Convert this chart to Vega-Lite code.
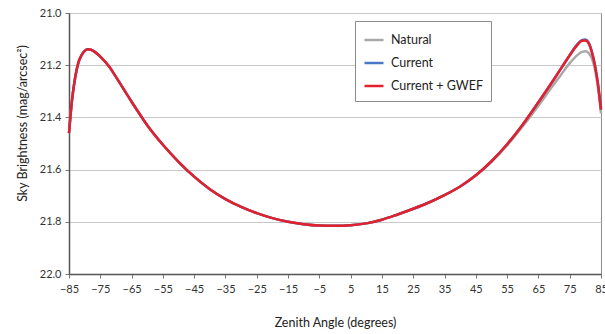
{
  "$schema": "https://vega.github.io/schema/vega-lite/v6.json",
  "width": 532,
  "height": 261,
  "autosize": {"type": "none"},
  "padding": {"left": 69, "top": 13, "right": 4, "bottom": 60},
  "background": "white",
  "config": {
    "font": "Lato",
    "view": {"stroke": "#8c8c8c", "strokeWidth": 1}
  },
  "data": {
    "values": [
      {"angle": -85, "Natural": 21.46, "Current": 21.46, "GWEF": 21.46},
      {"angle": -84, "Natural": 21.33, "Current": 21.33, "GWEF": 21.33},
      {"angle": -83, "Natural": 21.245, "Current": 21.245, "GWEF": 21.245},
      {"angle": -82, "Natural": 21.19, "Current": 21.19, "GWEF": 21.19},
      {"angle": -81, "Natural": 21.162, "Current": 21.162, "GWEF": 21.162},
      {"angle": -80, "Natural": 21.145, "Current": 21.145, "GWEF": 21.145},
      {"angle": -79, "Natural": 21.139, "Current": 21.139, "GWEF": 21.139},
      {"angle": -78, "Natural": 21.141, "Current": 21.141, "GWEF": 21.141},
      {"angle": -77, "Natural": 21.147, "Current": 21.147, "GWEF": 21.147},
      {"angle": -76, "Natural": 21.156, "Current": 21.156, "GWEF": 21.156},
      {"angle": -75, "Natural": 21.167, "Current": 21.167, "GWEF": 21.167},
      {"angle": -72, "Natural": 21.208, "Current": 21.208, "GWEF": 21.208},
      {"angle": -70, "Natural": 21.245, "Current": 21.245, "GWEF": 21.245},
      {"angle": -65, "Natural": 21.34, "Current": 21.34, "GWEF": 21.34},
      {"angle": -60, "Natural": 21.43, "Current": 21.43, "GWEF": 21.43},
      {"angle": -55, "Natural": 21.505, "Current": 21.505, "GWEF": 21.505},
      {"angle": -50, "Natural": 21.57, "Current": 21.57, "GWEF": 21.57},
      {"angle": -45, "Natural": 21.627, "Current": 21.627, "GWEF": 21.627},
      {"angle": -40, "Natural": 21.675, "Current": 21.675, "GWEF": 21.675},
      {"angle": -35, "Natural": 21.713, "Current": 21.713, "GWEF": 21.713},
      {"angle": -30, "Natural": 21.743, "Current": 21.743, "GWEF": 21.743},
      {"angle": -25, "Natural": 21.767, "Current": 21.767, "GWEF": 21.767},
      {"angle": -20, "Natural": 21.786, "Current": 21.786, "GWEF": 21.786},
      {"angle": -15, "Natural": 21.8, "Current": 21.8, "GWEF": 21.8},
      {"angle": -10, "Natural": 21.809, "Current": 21.809, "GWEF": 21.809},
      {"angle": -5, "Natural": 21.814, "Current": 21.814, "GWEF": 21.814},
      {"angle": 0, "Natural": 21.815, "Current": 21.815, "GWEF": 21.815},
      {"angle": 5, "Natural": 21.813, "Current": 21.813, "GWEF": 21.813},
      {"angle": 10, "Natural": 21.806, "Current": 21.806, "GWEF": 21.806},
      {"angle": 15, "Natural": 21.792, "Current": 21.792, "GWEF": 21.792},
      {"angle": 20, "Natural": 21.772, "Current": 21.772, "GWEF": 21.772},
      {"angle": 25, "Natural": 21.75, "Current": 21.75, "GWEF": 21.75},
      {"angle": 30, "Natural": 21.726, "Current": 21.726, "GWEF": 21.726},
      {"angle": 35, "Natural": 21.698, "Current": 21.698, "GWEF": 21.698},
      {"angle": 40, "Natural": 21.665, "Current": 21.665, "GWEF": 21.665},
      {"angle": 45, "Natural": 21.623, "Current": 21.622, "GWEF": 21.622},
      {"angle": 50, "Natural": 21.57, "Current": 21.568, "GWEF": 21.568},
      {"angle": 55, "Natural": 21.507, "Current": 21.503, "GWEF": 21.503},
      {"angle": 60, "Natural": 21.434, "Current": 21.427, "GWEF": 21.427},
      {"angle": 65, "Natural": 21.355, "Current": 21.342, "GWEF": 21.342},
      {"angle": 70, "Natural": 21.272, "Current": 21.253, "GWEF": 21.254},
      {"angle": 72, "Natural": 21.24, "Current": 21.216, "GWEF": 21.217},
      {"angle": 75, "Natural": 21.192, "Current": 21.161, "GWEF": 21.163},
      {"angle": 77, "Natural": 21.166, "Current": 21.126, "GWEF": 21.129},
      {"angle": 79, "Natural": 21.149, "Current": 21.103, "GWEF": 21.106},
      {"angle": 80, "Natural": 21.147, "Current": 21.102, "GWEF": 21.105},
      {"angle": 81, "Natural": 21.153, "Current": 21.112, "GWEF": 21.115},
      {"angle": 82, "Natural": 21.172, "Current": 21.145, "GWEF": 21.147},
      {"angle": 83, "Natural": 21.212, "Current": 21.195, "GWEF": 21.197},
      {"angle": 84, "Natural": 21.283, "Current": 21.268, "GWEF": 21.27},
      {"angle": 85, "Natural": 21.385, "Current": 21.37, "GWEF": 21.37}
    ]
  },
  "encoding": {
    "x": {
      "field": "angle",
      "type": "quantitative",
      "scale": {"domain": [-85, 85], "nice": false, "zero": false},
      "axis": {
        "values": [-85, -75, -65, -55, -45, -35, -25, -15, -5, 5, 15, 25, 35, 45, 55, 65, 75, 85],
        "title": "Zenith Angle (degrees)",
        "titleFontSize": 12.5,
        "titleFontWeight": "normal",
        "titleColor": "#222",
        "titlePadding": 22,
        "labelFontSize": 11,
        "labelColor": "#333",
        "labelPadding": 5,
        "labelFlush": false,
        "labelOverlap": false,
        "grid": false,
        "domainColor": "#555",
        "domainWidth": 1.5,
        "tickColor": "#777",
        "tickSize": 4
      }
    },
    "color": {
      "type": "nominal",
      "scale": {
        "domain": ["Natural", "Current", "Current + GWEF"],
        "range": ["#a8a8a8", "#4a78c6", "#e3202b"]
      },
      "legend": {
        "title": null,
        "orient": "none",
        "legendX": 286,
        "legendY": 8,
        "symbolType": "stroke",
        "symbolSize": 360,
        "symbolStrokeWidth": 2.5,
        "labelFontSize": 12.5,
        "labelColor": "#222",
        "labelFont": "Lato",
        "rowPadding": 5,
        "padding": 8,
        "strokeColor": "#8c8c8c",
        "fillColor": "white",
        "labelOffset": 6
      }
    }
  },
  "layer": [
    {
      "mark": {"type": "line", "interpolate": "monotone", "strokeWidth": 2.5},
      "encoding": {
        "y": {
          "field": "Natural",
          "type": "quantitative",
          "scale": {"domain": [21.0, 22.0], "reverse": true, "nice": false, "zero": false},
          "axis": {
            "values": [21.0, 21.1, 21.2, 21.3, 21.4, 21.5, 21.6, 21.7, 21.8, 21.9, 22.0],
            "labelExpr": "round(datum.value * 10) % 2 == 0 ? format(datum.value, '.1f') : ''",
            "gridOpacity": {"condition": {"test": "round(datum.value * 10) % 2 == 0", "value": 1}, "value": 0},
            "gridColor": "#c8c8c8",
            "gridWidth": 1,
            "title": "Sky Brightness (mag/arcsec²)",
            "titleFontSize": 12.5,
            "titleFontWeight": "normal",
            "titleColor": "#222",
            "titlePadding": 10,
            "titleY": 110,
            "labelFontSize": 11,
            "labelColor": "#333",
            "labelPadding": 4,
            "labelFlush": false,
            "labelOverlap": false,
            "domainColor": "#555",
            "domainWidth": 1.5,
            "tickColor": "#777",
            "tickSize": 4
          }
        },
        "color": {"datum": "Natural"}
      }
    },
    {
      "mark": {"type": "line", "interpolate": "monotone", "strokeWidth": 2.5},
      "encoding": {
        "y": {"field": "Current", "type": "quantitative"},
        "color": {"datum": "Current"}
      }
    },
    {
      "mark": {"type": "line", "interpolate": "monotone", "strokeWidth": 2.5},
      "encoding": {
        "y": {"field": "GWEF", "type": "quantitative"},
        "color": {"datum": "Current + GWEF"}
      }
    }
  ]
}
